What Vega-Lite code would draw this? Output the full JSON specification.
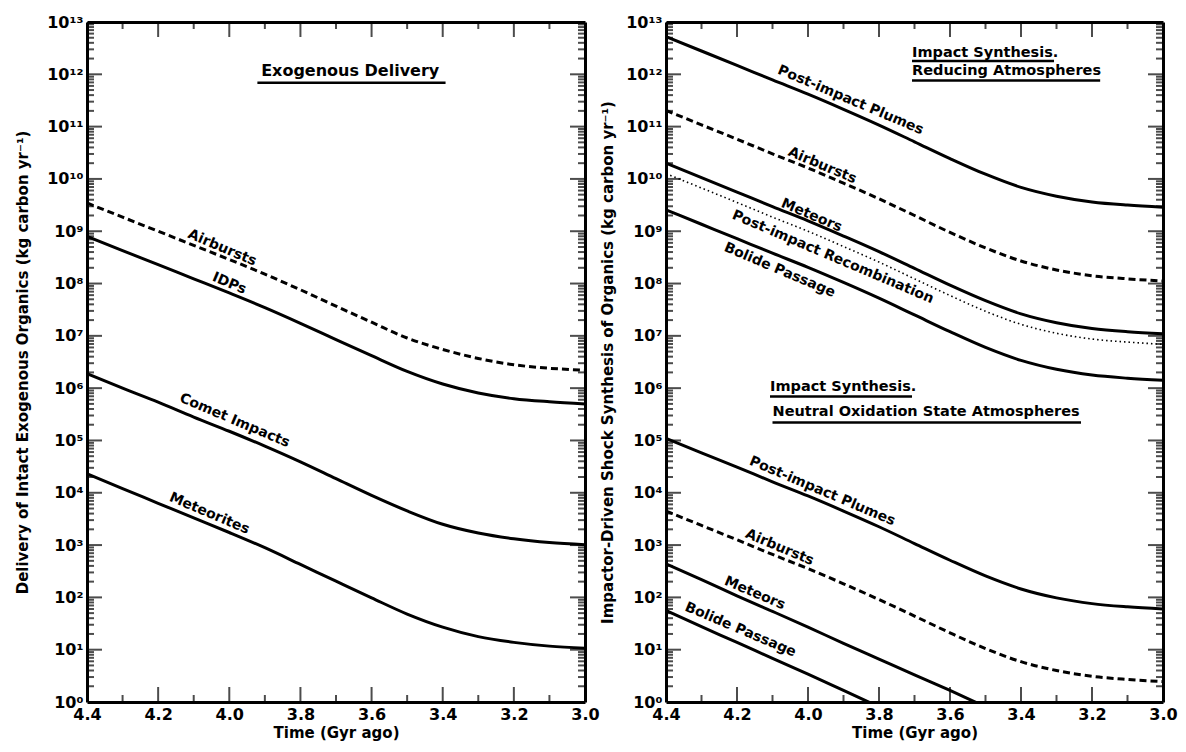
{
  "$schema": "https://vega.github.io/schema/vega-lite/v6.json",
  "background": "white",
  "padding": {"left": 15, "top": 14, "right": 5, "bottom": 5},
  "spacing": 0,
  "config": {
    "view": {"stroke": null},
    "font": "DejaVu Sans",
    "axis": {
      "domainColor": "black", "domainWidth": 3, "ticks": false,
      "labelColor": "black", "labelFont": "DejaVu Sans", "labelFontWeight": "bold", "labelFontSize": 16,
      "titleColor": "black", "titleFont": "DejaVu Sans", "titleFontWeight": "bold", "titleFontSize": 15,
      "grid": false, "labelOverlap": false, "labelFlush": false, "labelBound": false
    }
  },
  "datasets": {
    "yticks": [
      {"v": 1, "kind": "major"}, {"v": 2, "kind": "minor"}, {"v": 3, "kind": "minor"}, {"v": 4, "kind": "minor"}, {"v": 5, "kind": "minor"}, {"v": 6, "kind": "minor"}, {"v": 7, "kind": "minor"}, {"v": 8, "kind": "minor"}, {"v": 9, "kind": "minor"},
      {"v": 10, "kind": "major"}, {"v": 20, "kind": "minor"}, {"v": 30, "kind": "minor"}, {"v": 40, "kind": "minor"}, {"v": 50, "kind": "minor"}, {"v": 60, "kind": "minor"}, {"v": 70, "kind": "minor"}, {"v": 80, "kind": "minor"}, {"v": 90, "kind": "minor"},
      {"v": 100, "kind": "major"}, {"v": 200, "kind": "minor"}, {"v": 300, "kind": "minor"}, {"v": 400, "kind": "minor"}, {"v": 500, "kind": "minor"}, {"v": 600, "kind": "minor"}, {"v": 700, "kind": "minor"}, {"v": 800, "kind": "minor"}, {"v": 900, "kind": "minor"},
      {"v": 1e3, "kind": "major"}, {"v": 2e3, "kind": "minor"}, {"v": 3e3, "kind": "minor"}, {"v": 4e3, "kind": "minor"}, {"v": 5e3, "kind": "minor"}, {"v": 6e3, "kind": "minor"}, {"v": 7e3, "kind": "minor"}, {"v": 8e3, "kind": "minor"}, {"v": 9e3, "kind": "minor"},
      {"v": 1e4, "kind": "major"}, {"v": 2e4, "kind": "minor"}, {"v": 3e4, "kind": "minor"}, {"v": 4e4, "kind": "minor"}, {"v": 5e4, "kind": "minor"}, {"v": 6e4, "kind": "minor"}, {"v": 7e4, "kind": "minor"}, {"v": 8e4, "kind": "minor"}, {"v": 9e4, "kind": "minor"},
      {"v": 1e5, "kind": "major"}, {"v": 2e5, "kind": "minor"}, {"v": 3e5, "kind": "minor"}, {"v": 4e5, "kind": "minor"}, {"v": 5e5, "kind": "minor"}, {"v": 6e5, "kind": "minor"}, {"v": 7e5, "kind": "minor"}, {"v": 8e5, "kind": "minor"}, {"v": 9e5, "kind": "minor"},
      {"v": 1e6, "kind": "major"}, {"v": 2e6, "kind": "minor"}, {"v": 3e6, "kind": "minor"}, {"v": 4e6, "kind": "minor"}, {"v": 5e6, "kind": "minor"}, {"v": 6e6, "kind": "minor"}, {"v": 7e6, "kind": "minor"}, {"v": 8e6, "kind": "minor"}, {"v": 9e6, "kind": "minor"},
      {"v": 1e7, "kind": "major"}, {"v": 2e7, "kind": "minor"}, {"v": 3e7, "kind": "minor"}, {"v": 4e7, "kind": "minor"}, {"v": 5e7, "kind": "minor"}, {"v": 6e7, "kind": "minor"}, {"v": 7e7, "kind": "minor"}, {"v": 8e7, "kind": "minor"}, {"v": 9e7, "kind": "minor"},
      {"v": 1e8, "kind": "major"}, {"v": 2e8, "kind": "minor"}, {"v": 3e8, "kind": "minor"}, {"v": 4e8, "kind": "minor"}, {"v": 5e8, "kind": "minor"}, {"v": 6e8, "kind": "minor"}, {"v": 7e8, "kind": "minor"}, {"v": 8e8, "kind": "minor"}, {"v": 9e8, "kind": "minor"},
      {"v": 1e9, "kind": "major"}, {"v": 2e9, "kind": "minor"}, {"v": 3e9, "kind": "minor"}, {"v": 4e9, "kind": "minor"}, {"v": 5e9, "kind": "minor"}, {"v": 6e9, "kind": "minor"}, {"v": 7e9, "kind": "minor"}, {"v": 8e9, "kind": "minor"}, {"v": 9e9, "kind": "minor"},
      {"v": 1e10, "kind": "major"}, {"v": 2e10, "kind": "minor"}, {"v": 3e10, "kind": "minor"}, {"v": 4e10, "kind": "minor"}, {"v": 5e10, "kind": "minor"}, {"v": 6e10, "kind": "minor"}, {"v": 7e10, "kind": "minor"}, {"v": 8e10, "kind": "minor"}, {"v": 9e10, "kind": "minor"},
      {"v": 1e11, "kind": "major"}, {"v": 2e11, "kind": "minor"}, {"v": 3e11, "kind": "minor"}, {"v": 4e11, "kind": "minor"}, {"v": 5e11, "kind": "minor"}, {"v": 6e11, "kind": "minor"}, {"v": 7e11, "kind": "minor"}, {"v": 8e11, "kind": "minor"}, {"v": 9e11, "kind": "minor"},
      {"v": 1e12, "kind": "major"}, {"v": 2e12, "kind": "minor"}, {"v": 3e12, "kind": "minor"}, {"v": 4e12, "kind": "minor"}, {"v": 5e12, "kind": "minor"}, {"v": 6e12, "kind": "minor"}, {"v": 7e12, "kind": "minor"}, {"v": 8e12, "kind": "minor"}, {"v": 9e12, "kind": "minor"},
      {"v": 1e13, "kind": "major"}
    ],
    "xticks": [
      {"t": 4.4, "kind": "major"}, {"t": 4.3, "kind": "minor"}, {"t": 4.2, "kind": "major"}, {"t": 4.1, "kind": "minor"},
      {"t": 4.0, "kind": "major"}, {"t": 3.9, "kind": "minor"}, {"t": 3.8, "kind": "major"}, {"t": 3.7, "kind": "minor"},
      {"t": 3.6, "kind": "major"}, {"t": 3.5, "kind": "minor"}, {"t": 3.4, "kind": "major"}, {"t": 3.3, "kind": "minor"},
      {"t": 3.2, "kind": "major"}, {"t": 3.1, "kind": "minor"}, {"t": 3.0, "kind": "major"}
    ],
    "left_lines": [
      {"series": "Airbursts", "style": "dashed", "t": 4.4, "v": 3.47e9}, {"series": "Airbursts", "style": "dashed", "t": 4.3, "v": 1.86e9},
      {"series": "Airbursts", "style": "dashed", "t": 4.2, "v": 1.0e9}, {"series": "Airbursts", "style": "dashed", "t": 4.1, "v": 5.37e8},
      {"series": "Airbursts", "style": "dashed", "t": 4.0, "v": 2.88e8}, {"series": "Airbursts", "style": "dashed", "t": 3.9, "v": 1.51e8},
      {"series": "Airbursts", "style": "dashed", "t": 3.8, "v": 7.6e7}, {"series": "Airbursts", "style": "dashed", "t": 3.7, "v": 3.7e7},
      {"series": "Airbursts", "style": "dashed", "t": 3.6, "v": 1.82e7}, {"series": "Airbursts", "style": "dashed", "t": 3.5, "v": 9.1e6},
      {"series": "Airbursts", "style": "dashed", "t": 3.4, "v": 5.5e6}, {"series": "Airbursts", "style": "dashed", "t": 3.3, "v": 3.7e6},
      {"series": "Airbursts", "style": "dashed", "t": 3.2, "v": 2.8e6}, {"series": "Airbursts", "style": "dashed", "t": 3.1, "v": 2.4e6},
      {"series": "Airbursts", "style": "dashed", "t": 3.0, "v": 2.2e6},
      {"series": "IDPs", "style": "solid", "t": 4.4, "v": 7.94e8}, {"series": "IDPs", "style": "solid", "t": 4.3, "v": 4.27e8},
      {"series": "IDPs", "style": "solid", "t": 4.2, "v": 2.29e8}, {"series": "IDPs", "style": "solid", "t": 4.1, "v": 1.23e8},
      {"series": "IDPs", "style": "solid", "t": 4.0, "v": 6.6e7}, {"series": "IDPs", "style": "solid", "t": 3.9, "v": 3.47e7},
      {"series": "IDPs", "style": "solid", "t": 3.8, "v": 1.74e7}, {"series": "IDPs", "style": "solid", "t": 3.7, "v": 8.5e6},
      {"series": "IDPs", "style": "solid", "t": 3.6, "v": 4.17e6}, {"series": "IDPs", "style": "solid", "t": 3.5, "v": 2.09e6},
      {"series": "IDPs", "style": "solid", "t": 3.4, "v": 1.2e6}, {"series": "IDPs", "style": "solid", "t": 3.3, "v": 8.1e5},
      {"series": "IDPs", "style": "solid", "t": 3.2, "v": 6.3e5}, {"series": "IDPs", "style": "solid", "t": 3.1, "v": 5.5e5},
      {"series": "IDPs", "style": "solid", "t": 3.0, "v": 5.0e5},
      {"series": "Comet Impacts", "style": "solid", "t": 4.4, "v": 1.9e6}, {"series": "Comet Impacts", "style": "solid", "t": 4.3, "v": 1.0e6},
      {"series": "Comet Impacts", "style": "solid", "t": 4.2, "v": 5.4e5}, {"series": "Comet Impacts", "style": "solid", "t": 4.1, "v": 2.8e5},
      {"series": "Comet Impacts", "style": "solid", "t": 4.0, "v": 1.5e5}, {"series": "Comet Impacts", "style": "solid", "t": 3.9, "v": 7.8e4},
      {"series": "Comet Impacts", "style": "solid", "t": 3.8, "v": 3.9e4}, {"series": "Comet Impacts", "style": "solid", "t": 3.7, "v": 1.86e4},
      {"series": "Comet Impacts", "style": "solid", "t": 3.6, "v": 8.9e3}, {"series": "Comet Impacts", "style": "solid", "t": 3.5, "v": 4.5e3},
      {"series": "Comet Impacts", "style": "solid", "t": 3.4, "v": 2.5e3}, {"series": "Comet Impacts", "style": "solid", "t": 3.3, "v": 1.7e3},
      {"series": "Comet Impacts", "style": "solid", "t": 3.2, "v": 1.32e3}, {"series": "Comet Impacts", "style": "solid", "t": 3.1, "v": 1.12e3},
      {"series": "Comet Impacts", "style": "solid", "t": 3.0, "v": 1.02e3},
      {"series": "Meteorites", "style": "solid", "t": 4.4, "v": 2.3e4}, {"series": "Meteorites", "style": "solid", "t": 4.3, "v": 1.2e4},
      {"series": "Meteorites", "style": "solid", "t": 4.2, "v": 6.3e3}, {"series": "Meteorites", "style": "solid", "t": 4.1, "v": 3.3e3},
      {"series": "Meteorites", "style": "solid", "t": 4.0, "v": 1.74e3}, {"series": "Meteorites", "style": "solid", "t": 3.9, "v": 891},
      {"series": "Meteorites", "style": "solid", "t": 3.8, "v": 427}, {"series": "Meteorites", "style": "solid", "t": 3.7, "v": 204},
      {"series": "Meteorites", "style": "solid", "t": 3.6, "v": 98}, {"series": "Meteorites", "style": "solid", "t": 3.5, "v": 48},
      {"series": "Meteorites", "style": "solid", "t": 3.4, "v": 27}, {"series": "Meteorites", "style": "solid", "t": 3.3, "v": 17.8},
      {"series": "Meteorites", "style": "solid", "t": 3.2, "v": 13.8}, {"series": "Meteorites", "style": "solid", "t": 3.1, "v": 11.7},
      {"series": "Meteorites", "style": "solid", "t": 3.0, "v": 10.7}
    ],
    "right_lines": [
      {"series": "R Plumes", "style": "solid", "t": 4.4, "v": 5.25e12}, {"series": "R Plumes", "style": "solid", "t": 4.3, "v": 2.79e12},
      {"series": "R Plumes", "style": "solid", "t": 4.2, "v": 1.48e12}, {"series": "R Plumes", "style": "solid", "t": 4.1, "v": 7.8e11},
      {"series": "R Plumes", "style": "solid", "t": 4.0, "v": 4.17e11}, {"series": "R Plumes", "style": "solid", "t": 3.9, "v": 2.14e11},
      {"series": "R Plumes", "style": "solid", "t": 3.8, "v": 1.07e11}, {"series": "R Plumes", "style": "solid", "t": 3.7, "v": 5.13e10},
      {"series": "R Plumes", "style": "solid", "t": 3.6, "v": 2.45e10}, {"series": "R Plumes", "style": "solid", "t": 3.5, "v": 1.23e10},
      {"series": "R Plumes", "style": "solid", "t": 3.4, "v": 6.9e9}, {"series": "R Plumes", "style": "solid", "t": 3.3, "v": 4.68e9},
      {"series": "R Plumes", "style": "solid", "t": 3.2, "v": 3.63e9}, {"series": "R Plumes", "style": "solid", "t": 3.1, "v": 3.16e9},
      {"series": "R Plumes", "style": "solid", "t": 3.0, "v": 2.88e9},
      {"series": "R Airbursts", "style": "dashed", "t": 4.4, "v": 2.04e11}, {"series": "R Airbursts", "style": "dashed", "t": 4.3, "v": 1.08e11},
      {"series": "R Airbursts", "style": "dashed", "t": 4.2, "v": 5.75e10}, {"series": "R Airbursts", "style": "dashed", "t": 4.1, "v": 3.02e10},
      {"series": "R Airbursts", "style": "dashed", "t": 4.0, "v": 1.62e10}, {"series": "R Airbursts", "style": "dashed", "t": 3.9, "v": 8.3e9},
      {"series": "R Airbursts", "style": "dashed", "t": 3.8, "v": 4.17e9}, {"series": "R Airbursts", "style": "dashed", "t": 3.7, "v": 2.0e9},
      {"series": "R Airbursts", "style": "dashed", "t": 3.6, "v": 9.5e8}, {"series": "R Airbursts", "style": "dashed", "t": 3.5, "v": 4.8e8},
      {"series": "R Airbursts", "style": "dashed", "t": 3.4, "v": 2.7e8}, {"series": "R Airbursts", "style": "dashed", "t": 3.3, "v": 1.82e8},
      {"series": "R Airbursts", "style": "dashed", "t": 3.2, "v": 1.41e8}, {"series": "R Airbursts", "style": "dashed", "t": 3.1, "v": 1.23e8},
      {"series": "R Airbursts", "style": "dashed", "t": 3.0, "v": 1.12e8},
      {"series": "R Meteors", "style": "solid", "t": 4.4, "v": 2.0e10}, {"series": "R Meteors", "style": "solid", "t": 4.3, "v": 1.06e10},
      {"series": "R Meteors", "style": "solid", "t": 4.2, "v": 5.6e9}, {"series": "R Meteors", "style": "solid", "t": 4.1, "v": 2.95e9},
      {"series": "R Meteors", "style": "solid", "t": 4.0, "v": 1.58e9}, {"series": "R Meteors", "style": "solid", "t": 3.9, "v": 8.1e8},
      {"series": "R Meteors", "style": "solid", "t": 3.8, "v": 4.07e8}, {"series": "R Meteors", "style": "solid", "t": 3.7, "v": 1.95e8},
      {"series": "R Meteors", "style": "solid", "t": 3.6, "v": 9.3e7}, {"series": "R Meteors", "style": "solid", "t": 3.5, "v": 4.7e7},
      {"series": "R Meteors", "style": "solid", "t": 3.4, "v": 2.63e7}, {"series": "R Meteors", "style": "solid", "t": 3.3, "v": 1.78e7},
      {"series": "R Meteors", "style": "solid", "t": 3.2, "v": 1.38e7}, {"series": "R Meteors", "style": "solid", "t": 3.1, "v": 1.2e7},
      {"series": "R Meteors", "style": "solid", "t": 3.0, "v": 1.1e7},
      {"series": "R Recombination", "style": "dotted", "t": 4.4, "v": 1.26e10}, {"series": "R Recombination", "style": "dotted", "t": 4.3, "v": 6.7e9},
      {"series": "R Recombination", "style": "dotted", "t": 4.2, "v": 3.55e9}, {"series": "R Recombination", "style": "dotted", "t": 4.1, "v": 1.86e9},
      {"series": "R Recombination", "style": "dotted", "t": 4.0, "v": 1.0e9}, {"series": "R Recombination", "style": "dotted", "t": 3.9, "v": 5.1e8},
      {"series": "R Recombination", "style": "dotted", "t": 3.8, "v": 2.57e8}, {"series": "R Recombination", "style": "dotted", "t": 3.7, "v": 1.23e8},
      {"series": "R Recombination", "style": "dotted", "t": 3.6, "v": 5.9e7}, {"series": "R Recombination", "style": "dotted", "t": 3.5, "v": 2.95e7},
      {"series": "R Recombination", "style": "dotted", "t": 3.4, "v": 1.66e7}, {"series": "R Recombination", "style": "dotted", "t": 3.3, "v": 1.12e7},
      {"series": "R Recombination", "style": "dotted", "t": 3.2, "v": 8.7e6}, {"series": "R Recombination", "style": "dotted", "t": 3.1, "v": 7.6e6},
      {"series": "R Recombination", "style": "dotted", "t": 3.0, "v": 6.9e6},
      {"series": "R Bolide", "style": "solid", "t": 4.4, "v": 2.57e9}, {"series": "R Bolide", "style": "solid", "t": 4.3, "v": 1.36e9},
      {"series": "R Bolide", "style": "solid", "t": 4.2, "v": 7.2e8}, {"series": "R Bolide", "style": "solid", "t": 4.1, "v": 3.8e8},
      {"series": "R Bolide", "style": "solid", "t": 4.0, "v": 2.04e8}, {"series": "R Bolide", "style": "solid", "t": 3.9, "v": 1.05e8},
      {"series": "R Bolide", "style": "solid", "t": 3.8, "v": 5.25e7}, {"series": "R Bolide", "style": "solid", "t": 3.7, "v": 2.51e7},
      {"series": "R Bolide", "style": "solid", "t": 3.6, "v": 1.2e7}, {"series": "R Bolide", "style": "solid", "t": 3.5, "v": 6.0e6},
      {"series": "R Bolide", "style": "solid", "t": 3.4, "v": 3.39e6}, {"series": "R Bolide", "style": "solid", "t": 3.3, "v": 2.29e6},
      {"series": "R Bolide", "style": "solid", "t": 3.2, "v": 1.78e6}, {"series": "R Bolide", "style": "solid", "t": 3.1, "v": 1.55e6},
      {"series": "R Bolide", "style": "solid", "t": 3.0, "v": 1.41e6},
      {"series": "N Plumes", "style": "solid", "t": 4.4, "v": 1.1e5}, {"series": "N Plumes", "style": "solid", "t": 4.3, "v": 5.8e4},
      {"series": "N Plumes", "style": "solid", "t": 4.2, "v": 3.1e4}, {"series": "N Plumes", "style": "solid", "t": 4.1, "v": 1.62e4},
      {"series": "N Plumes", "style": "solid", "t": 4.0, "v": 8.7e3}, {"series": "N Plumes", "style": "solid", "t": 3.9, "v": 4.47e3},
      {"series": "N Plumes", "style": "solid", "t": 3.8, "v": 2.24e3}, {"series": "N Plumes", "style": "solid", "t": 3.7, "v": 1.07e3},
      {"series": "N Plumes", "style": "solid", "t": 3.6, "v": 513}, {"series": "N Plumes", "style": "solid", "t": 3.5, "v": 257},
      {"series": "N Plumes", "style": "solid", "t": 3.4, "v": 145}, {"series": "N Plumes", "style": "solid", "t": 3.3, "v": 98},
      {"series": "N Plumes", "style": "solid", "t": 3.2, "v": 76}, {"series": "N Plumes", "style": "solid", "t": 3.1, "v": 66},
      {"series": "N Plumes", "style": "solid", "t": 3.0, "v": 60},
      {"series": "N Airbursts", "style": "dashed", "t": 4.4, "v": 4.47e3}, {"series": "N Airbursts", "style": "dashed", "t": 4.3, "v": 2.37e3},
      {"series": "N Airbursts", "style": "dashed", "t": 4.2, "v": 1.26e3}, {"series": "N Airbursts", "style": "dashed", "t": 4.1, "v": 661},
      {"series": "N Airbursts", "style": "dashed", "t": 4.0, "v": 355}, {"series": "N Airbursts", "style": "dashed", "t": 3.9, "v": 182},
      {"series": "N Airbursts", "style": "dashed", "t": 3.8, "v": 91}, {"series": "N Airbursts", "style": "dashed", "t": 3.7, "v": 44},
      {"series": "N Airbursts", "style": "dashed", "t": 3.6, "v": 21}, {"series": "N Airbursts", "style": "dashed", "t": 3.5, "v": 10.5},
      {"series": "N Airbursts", "style": "dashed", "t": 3.4, "v": 5.9}, {"series": "N Airbursts", "style": "dashed", "t": 3.3, "v": 4.0},
      {"series": "N Airbursts", "style": "dashed", "t": 3.2, "v": 3.1}, {"series": "N Airbursts", "style": "dashed", "t": 3.1, "v": 2.7},
      {"series": "N Airbursts", "style": "dashed", "t": 3.0, "v": 2.45},
      {"series": "N Meteors", "style": "solid", "t": 4.4, "v": 437}, {"series": "N Meteors", "style": "solid", "t": 4.3, "v": 219},
      {"series": "N Meteors", "style": "solid", "t": 4.2, "v": 107}, {"series": "N Meteors", "style": "solid", "t": 4.1, "v": 54},
      {"series": "N Meteors", "style": "solid", "t": 4.0, "v": 27}, {"series": "N Meteors", "style": "solid", "t": 3.9, "v": 13.2},
      {"series": "N Meteors", "style": "solid", "t": 3.8, "v": 6.6}, {"series": "N Meteors", "style": "solid", "t": 3.7, "v": 3.3},
      {"series": "N Meteors", "style": "solid", "t": 3.6, "v": 1.66}, {"series": "N Meteors", "style": "solid", "t": 3.5, "v": 0.81},
      {"series": "N Bolide", "style": "solid", "t": 4.4, "v": 56}, {"series": "N Bolide", "style": "solid", "t": 4.3, "v": 27.5},
      {"series": "N Bolide", "style": "solid", "t": 4.2, "v": 13.8}, {"series": "N Bolide", "style": "solid", "t": 4.1, "v": 6.8},
      {"series": "N Bolide", "style": "solid", "t": 4.0, "v": 3.4}, {"series": "N Bolide", "style": "solid", "t": 3.9, "v": 1.66},
      {"series": "N Bolide", "style": "solid", "t": 3.8, "v": 0.81}
    ],
    "left_labels": [
      {"label": "Airbursts", "t": 4.02, "v": 4.8e8},
      {"label": "IDPs", "t": 4.0, "v": 1.0e8},
      {"label": "Comet Impacts", "t": 3.985, "v": 2.4e5},
      {"label": "Meteorites", "t": 4.056, "v": 4.0e3}
    ],
    "right_labels": [
      {"label": "Post-impact Plumes", "t": 3.88, "v": 3.2e11},
      {"label": "Airbursts", "t": 3.96, "v": 1.8e10},
      {"label": "Meteors", "t": 3.99, "v": 2.0e9},
      {"label": "Post-impact Recombination", "t": 3.93, "v": 3.2e8},
      {"label": "Bolide Passage", "t": 4.08, "v": 1.8e8},
      {"label": "Post-impact Plumes", "t": 3.96, "v": 1.07e4},
      {"label": "Airbursts", "t": 4.08, "v": 900},
      {"label": "Meteors", "t": 4.15, "v": 120},
      {"label": "Bolide Passage", "t": 4.19, "v": 24}
    ],
    "left_notes": [
      {"note": "Exogenous Delivery", "t": 3.66, "v": 1.17e12}
    ],
    "left_rules": [
      {"t": 3.921, "t2": 3.392, "v": 6.9e11}
    ],
    "right_notes": [
      {"note": "Impact Synthesis.", "t": 3.707, "v": 2.5e12},
      {"note": "Reducing Atmospheres", "t": 3.707, "v": 1.18e12},
      {"note": "Impact Synthesis.", "t": 4.107, "v": 1.07e6},
      {"note": "Neutral Oxidation State Atmospheres", "t": 4.10, "v": 3.5e5}
    ],
    "right_rules": [
      {"t": 3.707, "t2": 3.307, "v": 1.8e12},
      {"t": 3.707, "t2": 3.177, "v": 7.6e11},
      {"t": 4.107, "t2": 3.707, "v": 6.9e5},
      {"t": 4.10, "t2": 3.231, "v": 2.2e5}
    ]
  },
  "hconcat": [
    {
      "width": 498,
      "height": 680,
      "resolve": {"axis": {"x": "independent", "y": "independent"}},
      "layer": [
        {
          "data": {"name": "left_lines"},
          "transform": [{"filter": "datum.style == 'solid'"}],
          "mark": {"type": "line", "color": "black", "strokeWidth": 3, "clip": true, "interpolate": "monotone"},
          "encoding": {
            "x": {"field": "t", "type": "quantitative", "scale": {"domain": [4.4, 3.0], "nice": false, "zero": false},
              "axis": {"orient": "bottom", "title": "Time (Gyr ago)", "values": [4.4, 4.2, 4.0, 3.8, 3.6, 3.4, 3.2, 3.0], "format": ".1f", "labelPadding": 4, "titlePadding": 3}},
            "y": {"field": "v", "type": "quantitative", "scale": {"type": "log", "domain": [1, 1e13], "nice": false},
              "axis": {"orient": "left", "title": "Delivery of Intact Exogenous Organics (kg carbon yr⁻¹)",
                "values": [1, 10, 100, 1e3, 1e4, 1e5, 1e6, 1e7, 1e8, 1e9, 1e10, 1e11, 1e12, 1e13],
                "labelExpr": "'10' + ['⁰','¹','²','³','⁴','⁵','⁶','⁷','⁸','⁹','¹⁰','¹¹','¹²','¹³'][round(log(datum.value) / LN10)]",
                "labelPadding": 4, "titlePadding": 16}},
            "detail": {"field": "series"}
          }
        },
        {
          "data": {"name": "left_lines"},
          "transform": [{"filter": "datum.style == 'dashed'"}],
          "mark": {"type": "line", "color": "black", "strokeWidth": 3, "strokeDash": [7, 4], "clip": true, "interpolate": "monotone"},
          "encoding": {
            "x": {"field": "t", "type": "quantitative", "scale": {"domain": [4.4, 3.0], "nice": false, "zero": false},
              "axis": {"orient": "bottom", "offset": -680, "title": null, "labels": false, "domain": true, "values": [4.4]}},
            "y": {"field": "v", "type": "quantitative", "scale": {"type": "log", "domain": [1, 1e13], "nice": false},
              "axis": {"orient": "left", "offset": -498, "title": null, "labels": false, "domain": true, "values": [1]}},
            "detail": {"field": "series"}
          }
        },
        {
          "data": {"name": "yticks"},
          "mark": {"type": "tick", "orient": "horizontal", "color": "black", "thickness": 2, "clip": true},
          "encoding": {
            "x": {"datum": 4.4, "type": "quantitative", "scale": {"domain": [4.4, 3.0], "nice": false, "zero": false}, "axis": null},
            "y": {"field": "v", "type": "quantitative", "scale": {"type": "log", "domain": [1, 1e13], "nice": false}, "axis": null},
            "size": {"field": "kind", "type": "nominal", "scale": {"domain": ["major", "minor"], "range": [30, 14]}, "legend": null}
          }
        },
        {
          "data": {"name": "yticks"},
          "mark": {"type": "tick", "orient": "horizontal", "color": "black", "thickness": 2, "clip": true},
          "encoding": {
            "x": {"datum": 3.0, "type": "quantitative", "scale": {"domain": [4.4, 3.0], "nice": false, "zero": false}, "axis": null},
            "y": {"field": "v", "type": "quantitative", "scale": {"type": "log", "domain": [1, 1e13], "nice": false}, "axis": null},
            "size": {"field": "kind", "type": "nominal", "scale": {"domain": ["major", "minor"], "range": [30, 14]}, "legend": null}
          }
        },
        {
          "data": {"name": "xticks"},
          "mark": {"type": "tick", "orient": "vertical", "color": "black", "thickness": 2, "clip": true},
          "encoding": {
            "x": {"field": "t", "type": "quantitative", "scale": {"domain": [4.4, 3.0], "nice": false, "zero": false}, "axis": null},
            "y": {"datum": 1, "type": "quantitative", "scale": {"type": "log", "domain": [1, 1e13], "nice": false}, "axis": null},
            "size": {"field": "kind", "type": "nominal", "scale": {"domain": ["major", "minor"], "range": [20, 10]}, "legend": null}
          }
        },
        {
          "data": {"name": "xticks"},
          "mark": {"type": "tick", "orient": "vertical", "color": "black", "thickness": 2, "clip": true},
          "encoding": {
            "x": {"field": "t", "type": "quantitative", "scale": {"domain": [4.4, 3.0], "nice": false, "zero": false}, "axis": null},
            "y": {"datum": 1e13, "type": "quantitative", "scale": {"type": "log", "domain": [1, 1e13], "nice": false}, "axis": null},
            "size": {"field": "kind", "type": "nominal", "scale": {"domain": ["major", "minor"], "range": [20, 10]}, "legend": null}
          }
        },
        {
          "data": {"name": "left_labels"},
          "mark": {"type": "text", "angle": 23, "fontSize": 14, "fontWeight": "bold", "color": "black", "font": "DejaVu Sans"},
          "encoding": {
            "x": {"field": "t", "type": "quantitative", "scale": {"domain": [4.4, 3.0], "nice": false, "zero": false}, "axis": null},
            "y": {"field": "v", "type": "quantitative", "scale": {"type": "log", "domain": [1, 1e13], "nice": false}, "axis": null},
            "text": {"field": "label"}
          }
        },
        {
          "data": {"name": "left_notes"},
          "mark": {"type": "text", "fontSize": 16, "fontWeight": "bold", "color": "black", "font": "DejaVu Sans"},
          "encoding": {
            "x": {"field": "t", "type": "quantitative", "scale": {"domain": [4.4, 3.0], "nice": false, "zero": false}, "axis": null},
            "y": {"field": "v", "type": "quantitative", "scale": {"type": "log", "domain": [1, 1e13], "nice": false}, "axis": null},
            "text": {"field": "note"}
          }
        },
        {
          "data": {"name": "left_rules"},
          "mark": {"type": "rule", "color": "black", "strokeWidth": 2.5},
          "encoding": {
            "x": {"field": "t", "type": "quantitative", "scale": {"domain": [4.4, 3.0], "nice": false, "zero": false}, "axis": null},
            "x2": {"field": "t2"},
            "y": {"field": "v", "type": "quantitative", "scale": {"type": "log", "domain": [1, 1e13], "nice": false}, "axis": null}
          }
        }
      ]
    },
    {
      "width": 497,
      "height": 680,
      "resolve": {"axis": {"x": "independent", "y": "independent"}},
      "layer": [
        {
          "data": {"name": "right_lines"},
          "transform": [{"filter": "datum.style == 'solid'"}],
          "mark": {"type": "line", "color": "black", "strokeWidth": 3, "clip": true, "interpolate": "monotone"},
          "encoding": {
            "x": {"field": "t", "type": "quantitative", "scale": {"domain": [4.4, 3.0], "nice": false, "zero": false},
              "axis": {"orient": "bottom", "title": "Time (Gyr ago)", "values": [4.4, 4.2, 4.0, 3.8, 3.6, 3.4, 3.2, 3.0], "format": ".1f", "labelPadding": 4, "titlePadding": 3}},
            "y": {"field": "v", "type": "quantitative", "scale": {"type": "log", "domain": [1, 1e13], "nice": false},
              "axis": {"orient": "left", "title": "Impactor-Driven Shock Synthesis of Organics (kg carbon yr⁻¹)",
                "values": [1, 10, 100, 1e3, 1e4, 1e5, 1e6, 1e7, 1e8, 1e9, 1e10, 1e11, 1e12, 1e13],
                "labelExpr": "'10' + ['⁰','¹','²','³','⁴','⁵','⁶','⁷','⁸','⁹','¹⁰','¹¹','¹²','¹³'][round(log(datum.value) / LN10)]",
                "labelPadding": 4, "titlePadding": 10}},
            "detail": {"field": "series"}
          }
        },
        {
          "data": {"name": "right_lines"},
          "transform": [{"filter": "datum.style == 'dashed'"}],
          "mark": {"type": "line", "color": "black", "strokeWidth": 3, "strokeDash": [7, 4], "clip": true, "interpolate": "monotone"},
          "encoding": {
            "x": {"field": "t", "type": "quantitative", "scale": {"domain": [4.4, 3.0], "nice": false, "zero": false},
              "axis": {"orient": "bottom", "offset": -680, "title": null, "labels": false, "domain": true, "values": [4.4]}},
            "y": {"field": "v", "type": "quantitative", "scale": {"type": "log", "domain": [1, 1e13], "nice": false},
              "axis": {"orient": "left", "offset": -497, "title": null, "labels": false, "domain": true, "values": [1]}},
            "detail": {"field": "series"}
          }
        },
        {
          "data": {"name": "right_lines"},
          "transform": [{"filter": "datum.style == 'dotted'"}],
          "mark": {"type": "line", "color": "black", "strokeWidth": 1.6, "strokeDash": [1.5, 3], "clip": true, "interpolate": "monotone"},
          "encoding": {
            "x": {"field": "t", "type": "quantitative", "scale": {"domain": [4.4, 3.0], "nice": false, "zero": false}, "axis": null},
            "y": {"field": "v", "type": "quantitative", "scale": {"type": "log", "domain": [1, 1e13], "nice": false}, "axis": null},
            "detail": {"field": "series"}
          }
        },
        {
          "data": {"name": "yticks"},
          "mark": {"type": "tick", "orient": "horizontal", "color": "black", "thickness": 2, "clip": true},
          "encoding": {
            "x": {"datum": 4.4, "type": "quantitative", "scale": {"domain": [4.4, 3.0], "nice": false, "zero": false}, "axis": null},
            "y": {"field": "v", "type": "quantitative", "scale": {"type": "log", "domain": [1, 1e13], "nice": false}, "axis": null},
            "size": {"field": "kind", "type": "nominal", "scale": {"domain": ["major", "minor"], "range": [30, 14]}, "legend": null}
          }
        },
        {
          "data": {"name": "yticks"},
          "mark": {"type": "tick", "orient": "horizontal", "color": "black", "thickness": 2, "clip": true},
          "encoding": {
            "x": {"datum": 3.0, "type": "quantitative", "scale": {"domain": [4.4, 3.0], "nice": false, "zero": false}, "axis": null},
            "y": {"field": "v", "type": "quantitative", "scale": {"type": "log", "domain": [1, 1e13], "nice": false}, "axis": null},
            "size": {"field": "kind", "type": "nominal", "scale": {"domain": ["major", "minor"], "range": [30, 14]}, "legend": null}
          }
        },
        {
          "data": {"name": "xticks"},
          "mark": {"type": "tick", "orient": "vertical", "color": "black", "thickness": 2, "clip": true},
          "encoding": {
            "x": {"field": "t", "type": "quantitative", "scale": {"domain": [4.4, 3.0], "nice": false, "zero": false}, "axis": null},
            "y": {"datum": 1, "type": "quantitative", "scale": {"type": "log", "domain": [1, 1e13], "nice": false}, "axis": null},
            "size": {"field": "kind", "type": "nominal", "scale": {"domain": ["major", "minor"], "range": [20, 10]}, "legend": null}
          }
        },
        {
          "data": {"name": "xticks"},
          "mark": {"type": "tick", "orient": "vertical", "color": "black", "thickness": 2, "clip": true},
          "encoding": {
            "x": {"field": "t", "type": "quantitative", "scale": {"domain": [4.4, 3.0], "nice": false, "zero": false}, "axis": null},
            "y": {"datum": 1e13, "type": "quantitative", "scale": {"type": "log", "domain": [1, 1e13], "nice": false}, "axis": null},
            "size": {"field": "kind", "type": "nominal", "scale": {"domain": ["major", "minor"], "range": [20, 10]}, "legend": null}
          }
        },
        {
          "data": {"name": "right_labels"},
          "mark": {"type": "text", "angle": 23, "fontSize": 14, "fontWeight": "bold", "color": "black", "font": "DejaVu Sans"},
          "encoding": {
            "x": {"field": "t", "type": "quantitative", "scale": {"domain": [4.4, 3.0], "nice": false, "zero": false}, "axis": null},
            "y": {"field": "v", "type": "quantitative", "scale": {"type": "log", "domain": [1, 1e13], "nice": false}, "axis": null},
            "text": {"field": "label"}
          }
        },
        {
          "data": {"name": "right_notes"},
          "mark": {"type": "text", "align": "left", "fontSize": 14.5, "fontWeight": "bold", "color": "black", "font": "DejaVu Sans"},
          "encoding": {
            "x": {"field": "t", "type": "quantitative", "scale": {"domain": [4.4, 3.0], "nice": false, "zero": false}, "axis": null},
            "y": {"field": "v", "type": "quantitative", "scale": {"type": "log", "domain": [1, 1e13], "nice": false}, "axis": null},
            "text": {"field": "note"}
          }
        },
        {
          "data": {"name": "right_rules"},
          "mark": {"type": "rule", "color": "black", "strokeWidth": 2.5},
          "encoding": {
            "x": {"field": "t", "type": "quantitative", "scale": {"domain": [4.4, 3.0], "nice": false, "zero": false}, "axis": null},
            "x2": {"field": "t2"},
            "y": {"field": "v", "type": "quantitative", "scale": {"type": "log", "domain": [1, 1e13], "nice": false}, "axis": null}
          }
        }
      ]
    }
  ]
}
